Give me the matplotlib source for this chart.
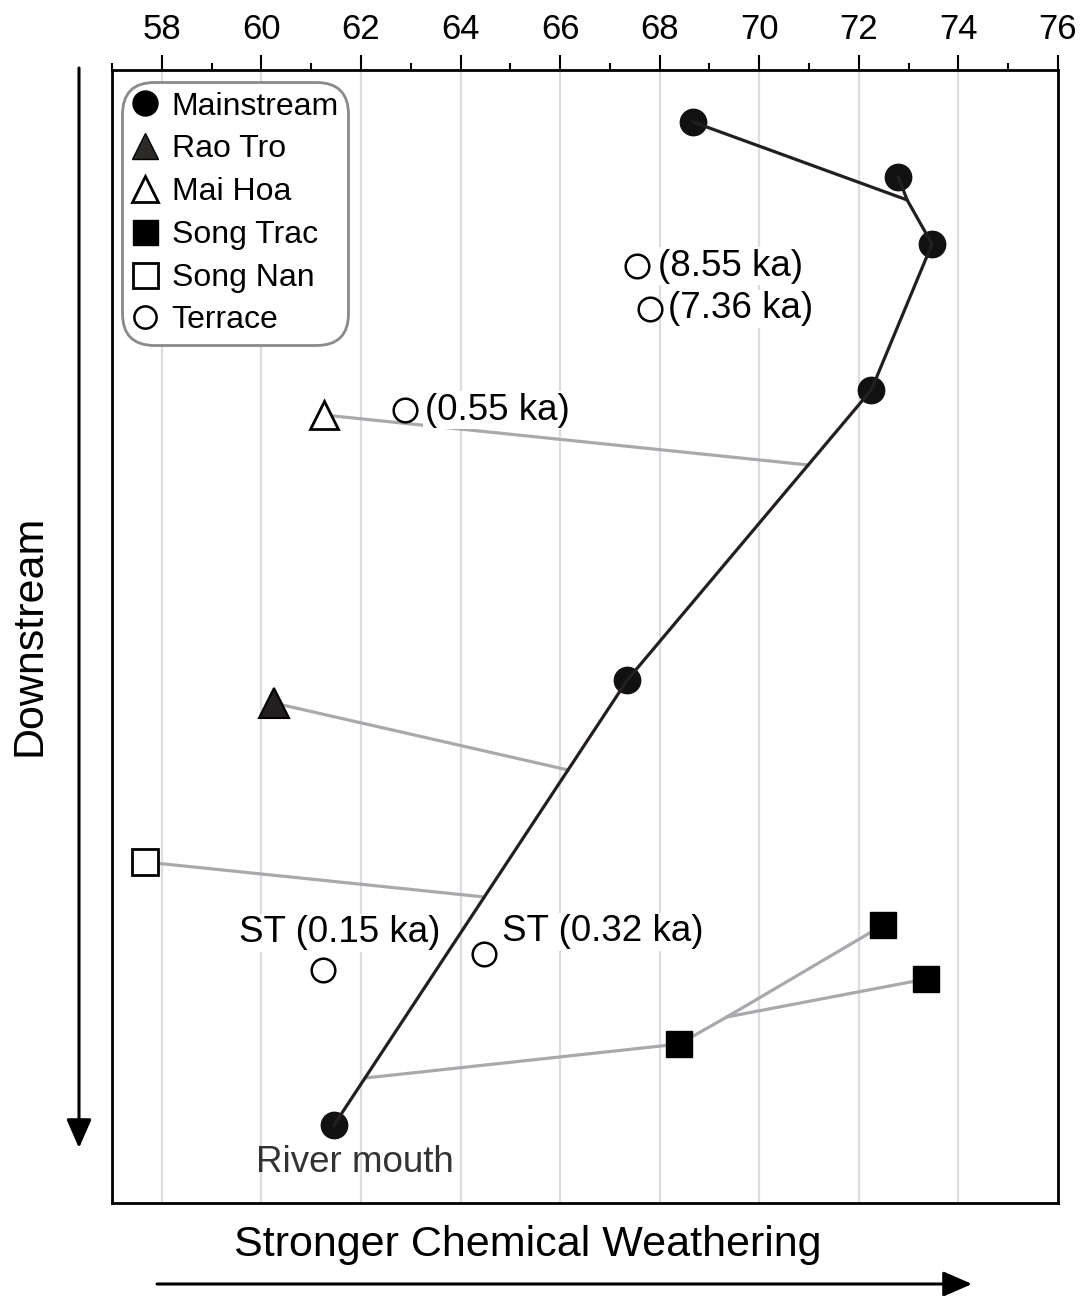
import numpy as np
import matplotlib
matplotlib.use("Agg")
from matplotlib import pyplot as plt
from matplotlib.lines import Line2D
from matplotlib.ticker import MultipleLocator

plt.rcParams['font.family'] = ['Liberation Sans', 'DejaVu Sans']

# CIA-like weathering index (x) against relative position downstream (y, 0 = source, 100 = mouth)
main_x = [68.67, 72.79, 73.47, 72.25, 67.35, 61.46]
main_y = [4.59, 9.44, 15.36, 28.24, 53.84, 93.11]
# where the upper two mainstream reaches meet
confl_x, confl_y = 72.97, 11.47

rao_tro_x, rao_tro_y, rao_tro_join = 60.25, 55.87, 61.78
mai_hoa_x, mai_hoa_y, mai_hoa_join = 61.26, 30.45, 34.86
song_nan_x, song_nan_y, song_nan_join = 57.66, 69.90, 72.99
# Song Trac: lower site, upper branch site, side branch site, internal junction
song_trac_x = [68.39, 72.49, 73.35]
song_trac_y = [85.97, 75.46, 80.23]
trac_junc_x, trac_junc_y = 69.35, 83.58
song_trac_join = 88.97

terrace_x = [67.55, 67.81, 62.89, 61.24, 64.47]
terrace_y = [17.30, 21.09, 30.01, 79.44, 78.02]
terrace_lbl = ['(8.55 ka)', '(7.36 ka)', '(0.55 ka)', 'ST (0.15 ka)', 'ST (0.32 ka)']

xticks = list(range(58, 77, 2))

DARK = '#231f20'
GREY = '#a7a9ac'

fig = plt.figure(figsize=(10.86, 12.96), dpi=100)
ax = fig.add_axes([112 / 1086, 1 - 1203 / 1296, 946 / 1086, 1133 / 1296])
ax.set_xlim(57, 76)
ax.set_ylim(100, 0)

# mainstream course: source -> confluence -> mouth, plus second headwater
path_x = [main_x[0], confl_x] + main_x[2:]
path_y = [main_y[0], confl_y] + main_y[2:]


def join_x(y):
    # x on the mainstream at a given downstream position
    return np.interp(y, path_y[1:], path_x[1:])


# tributaries (grey)
for tx, ty, jy in [(mai_hoa_x, mai_hoa_y, mai_hoa_join),
                   (rao_tro_x, rao_tro_y, rao_tro_join),
                   (song_nan_x, song_nan_y, song_nan_join)]:
    ax.plot([tx, join_x(jy)], [ty, jy], color=GREY, lw=2.3, zorder=2)
ax.plot([join_x(song_trac_join), song_trac_x[0], trac_junc_x, song_trac_x[1]],
        [song_trac_join, song_trac_y[0], trac_junc_y, song_trac_y[1]],
        color=GREY, lw=2.3, zorder=2)
ax.plot([trac_junc_x, song_trac_x[2]], [trac_junc_y, song_trac_y[2]],
        color=GREY, lw=2.3, zorder=2)

# mainstream
ax.plot(main_x, main_y, 'o', color='#111111', ms=19, zorder=4)
ax.plot(path_x, path_y, color=DARK, lw=2.3, zorder=5)
ax.plot([main_x[1], confl_x], [main_y[1], confl_y], color=DARK, lw=2.3, zorder=5)

ax.plot(rao_tro_x, rao_tro_y, '^', color=DARK, ms=21, mec='black', mew=1.5, zorder=6)
ax.plot(mai_hoa_x, mai_hoa_y, '^', mfc='white', mec='black', ms=20, mew=2, zorder=6)
ax.plot(song_trac_x, song_trac_y, 's', color='black', ms=18.5, zorder=6)
ax.plot(song_nan_x, song_nan_y, 's', mfc='white', mec='black', ms=19, mew=2, zorder=6)
ax.plot(terrace_x, terrace_y, 'o', mfc='white', mec='black', ms=17, mew=1.8, zorder=6)

label_off = [(15, 0), (13, 0), (14, 0), (12, 27), (13, 16)]
label_ha = ['left', 'left', 'left', 'center', 'left']
for x, y, t, off, ha in zip(terrace_x, terrace_y, terrace_lbl, label_off, label_ha):
    ax.annotate(t, (x, y), xytext=off, textcoords='offset points', ha=ha,
                va='center', fontsize=26.5, color='black', zorder=7,
                bbox=dict(facecolor='white', edgecolor='none', pad=1))

ax.annotate('River mouth', (main_x[-1], main_y[-1]), xytext=(15, -27),
            textcoords='offset points', ha='center', va='center',
            fontsize=26.5, color='#333333', zorder=7)

# axis styling
ax.xaxis.tick_top()
ax.set_xticks(xticks)
ax.xaxis.set_minor_locator(MultipleLocator(1))
ax.set_yticks([])
ax.tick_params(axis='x', which='major', length=11, width=1.5, pad=6, labelsize=25)
ax.tick_params(axis='x', which='minor', length=5, width=1.5)
ax.grid(axis='x', which='major', color='#dcdddf', lw=1.6, zorder=0)
ax.set_axisbelow(True)
for s in ax.spines.values():
    s.set_linewidth(2)

handles = [
    Line2D([], [], ls='none', marker='o', color='black', ms=18),
    Line2D([], [], ls='none', marker='^', mfc='#2b2a29', mec='black', ms=19),
    Line2D([], [], ls='none', marker='^', mfc='white', mec='black', ms=19, mew=2),
    Line2D([], [], ls='none', marker='s', color='black', ms=18),
    Line2D([], [], ls='none', marker='s', mfc='white', mec='black', ms=18, mew=2),
    Line2D([], [], ls='none', marker='o', mfc='white', mec='black', ms=16, mew=1.8),
]
names = ['Mainstream', 'Rao Tro', 'Mai Hoa', 'Song Trac', 'Song Nan', 'Terrace']
leg = ax.legend(handles, names, loc='upper left', bbox_to_anchor=(0.0106, 0.9894),
                borderaxespad=0, fontsize=23, handlelength=0.85, handletextpad=0.4,
                labelspacing=0.4, borderpad=0.3, frameon=True, fancybox=True,
                framealpha=1, edgecolor='#8a8a8a')
leg.get_frame().set_linewidth(2)
leg.get_frame().set_boxstyle('round', pad=0, rounding_size=1.0)
leg.set_zorder(10)

# direction arrows
ap = dict(arrowstyle='-|>,head_length=0.8,head_width=0.35', mutation_scale=22,
          color='black', lw=2.2, shrinkA=0, shrinkB=0)
fig.add_artist(matplotlib.patches.FancyArrowPatch(
    (79, 1296 - 68), (79, 1296 - 1148), transform=None, **ap))
fig.add_artist(matplotlib.patches.FancyArrowPatch(
    (157, 1296 - 1284), (972, 1296 - 1284), transform=None, **ap))
fig.text(30 / 1086, 1 - 635 / 1296, 'Downstream', rotation=90, ha='center',
         va='center', fontsize=31)
fig.text(528 / 1086, 1 - 1245 / 1296, 'Stronger Chemical Weathering',
         ha='center', va='center', fontsize=31)

fig.savefig('out.png', dpi=100)
